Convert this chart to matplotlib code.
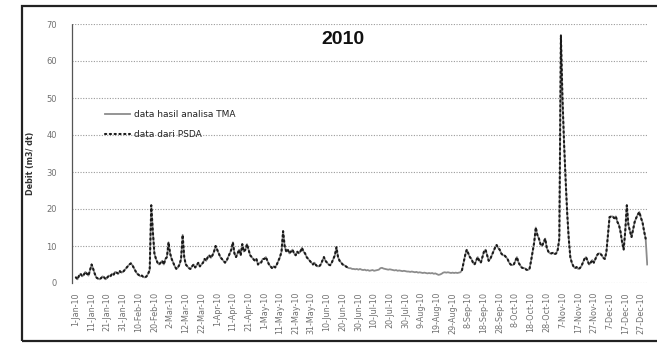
import matplotlib
matplotlib.use("Agg")
import matplotlib.pyplot as plt
import matplotlib.dates as mdates
from matplotlib.patches import Rectangle
import numpy as np
import pandas as pd

# Daily discharge (m3/dt) from the TMA analysis, month by month, 2010
jan = [1.5, 1.0, 2.0, 2.5, 1.8, 2.2, 3.0, 2.5, 2.0, 3.5, 5.0, 3.8, 2.5, 1.5, 1.2, 1.0,
       1.3, 1.8, 1.5, 1.0, 1.5, 2.0, 1.8, 2.5, 2.2, 3.0, 2.8, 2.5, 3.2, 2.8, 3.0]
feb = [3.5, 4.0, 4.5, 5.0, 5.3, 4.8, 4.0, 3.2, 2.5, 2.2, 1.8, 2.0, 1.6, 1.5, 1.8, 2.5,
       3.5, 21.0, 14.0, 8.0, 6.5, 5.5, 5.0, 5.5, 6.0, 5.0, 6.5, 7.0]
mar = [11.0, 8.0, 6.5, 5.5, 4.5, 3.8, 4.2, 5.0, 6.5, 13.0, 7.0, 5.0, 4.5, 4.0, 3.8, 4.5,
       5.0, 4.2, 4.8, 5.5, 4.5, 5.0, 5.5, 6.5, 6.0, 7.0, 7.5, 6.8, 7.5, 8.5, 10.0]
apr = [9.0, 8.0, 7.0, 6.5, 6.0, 5.5, 6.0, 7.0, 8.0, 9.0, 11.0, 8.0, 7.0, 8.0, 9.0,
       7.5, 10.5, 8.5, 9.0, 10.5, 9.0, 7.5, 7.0, 6.5, 6.0, 6.5, 5.0, 5.5, 5.5, 6.5]
may = [6.5, 7.0, 6.0, 5.0, 4.5, 4.0, 4.5, 4.2, 5.0, 6.0, 7.0, 8.5, 14.0, 10.0, 8.5, 9.0,
       8.0, 8.5, 9.0, 8.0, 7.5, 8.5, 8.0, 8.5, 9.5, 8.5, 8.0, 7.0, 6.5, 6.0, 5.5]
jun = [5.0, 5.5, 4.8, 4.5, 4.5, 5.0, 6.0, 7.0, 6.0, 5.5, 5.0, 4.8, 5.5, 6.5, 7.5,
       9.7, 7.0, 6.0, 5.5, 5.0, 4.8, 4.5, 4.2, 4.0, 4.0, 3.8, 3.8, 3.7, 3.8, 3.6]
jul = [3.8, 3.6, 3.5, 3.6, 3.4, 3.5, 3.3, 3.4, 3.5, 3.3, 3.4, 3.5, 3.6, 4.0, 4.1, 3.9,
       3.8, 3.7, 3.6, 3.7, 3.6, 3.5, 3.4, 3.5, 3.3, 3.4, 3.3, 3.2, 3.3, 3.2, 3.1]
aug = [3.1, 3.0, 3.1, 3.0, 2.9, 3.0, 2.8, 2.9, 2.8, 2.7, 2.8, 2.7, 2.6, 2.7, 2.6, 2.7,
       2.5, 2.6, 2.4, 2.2, 2.3, 2.5, 2.8, 2.9, 2.8, 2.9, 2.8, 2.7, 2.8, 2.7, 2.8]
sep = [2.7, 2.8, 2.9, 3.5, 5.5, 7.5, 9.0, 8.0, 7.0, 6.5, 5.5, 5.0, 6.0, 7.0, 6.0,
       5.5, 7.0, 8.5, 9.0, 7.5, 6.0, 6.5, 7.5, 8.5, 9.5, 10.3, 9.5, 9.0, 8.0, 7.5]
oct_ = [7.5, 7.0, 6.5, 5.5, 5.0, 4.8, 5.0, 6.0, 7.0, 5.5, 4.8, 4.2, 4.0, 4.0, 3.6, 3.5,
        3.8, 6.0, 8.5, 11.0, 15.0, 13.0, 12.0, 10.5, 10.0, 11.0, 12.0, 9.5, 8.5, 8.0, 8.0]
nov = [8.2, 7.8, 8.0, 9.0, 12.0, 67.0, 50.0, 38.0, 28.0, 19.0, 12.0, 7.0, 5.4, 4.5, 4.0,
       4.3, 3.8, 4.0, 4.5, 5.5, 6.5, 7.0, 6.0, 5.0, 5.5, 6.2, 5.5, 6.5, 7.5, 8.0]
dec = [8.0, 7.5, 6.8, 6.5, 8.4, 13.0, 17.8, 18.0, 18.0, 17.5, 18.0, 16.5, 15.7, 13.8,
       11.0, 9.0, 14.0, 21.0, 15.7, 14.0, 12.4, 14.5, 16.5, 17.6, 18.5, 19.2, 17.6,
       16.4, 14.0, 12.0, 5.0]

# Periods covered by the PSDA records
psda_periods = [("2010-01-01", "2010-06-24"), ("2010-09-04", "2010-12-30")]

tick_dates = pd.date_range("2010-01-01", periods=37, freq="10D")
tick_labels = [f"{d.day}-{d.strftime('%b-%y')}" for d in tick_dates]
y_ticks = [0, 10, 20, 30, 40, 50, 60, 70]

tma = np.array(jan + feb + mar + apr + may + jun + jul + aug + sep + oct_ + nov + dec)
dates = pd.date_range("2010-01-01", periods=len(tma), freq="D")
psda = pd.Series(np.nan, index=dates)
tma_s = pd.Series(tma, index=dates)
for start, end in psda_periods:
    psda[start:end] = tma_s[start:end]

plt.rcParams["font.family"] = ["DejaVu Sans"]

fig = plt.figure(figsize=(6.57, 3.43), dpi=100)
ax = fig.add_axes([72 / 657, 1 - 283 / 343, 576 / 657, 259 / 343])

x = mdates.date2num(dates)
ax.plot(x, tma, color="#8c8c8c", lw=1.3, solid_joinstyle="round",
        label="data hasil analisa TMA", zorder=2)
ax.plot(x, psda.values, color="#1a1a1a", lw=1.5, linestyle=(0, (0.6, 1.7)),
        dash_capstyle="round", label="data dari PSDA", zorder=3)

x0 = mdates.date2num(pd.Timestamp("2010-01-01"))
ax.set_xlim(x0 - 2.5, x0 + 364.5)
ax.set_ylim(0, 70)

ax.set_yticks(y_ticks)
ax.set_xticks(mdates.date2num(tick_dates))
ax.set_xticklabels(tick_labels, rotation=90, fontsize=5.8, color="#707070")
ax.tick_params(axis="x", length=0, pad=6.5)
ax.tick_params(axis="y", length=0, pad=11, labelsize=6, labelcolor="#707070")

ax.yaxis.grid(True, linestyle=(0, (1, 1.4)), color="#9a9a9a", lw=0.8)
ax.set_axisbelow(True)
for side in ["top", "right", "bottom"]:
    ax.spines[side].set_visible(False)
ax.spines["left"].set_linestyle((0, (1, 1)))
ax.spines["left"].set_color("#555555")
ax.spines["left"].set_linewidth(0.9)

ax.text((343 - 72) / 576, 1 - (40 - 24) / 259, "2010", transform=ax.transAxes,
        ha="center", va="center", fontsize=14, fontweight="bold",
        family=["Liberation Sans", "DejaVu Sans"], color="#111111")

leg = ax.legend(loc="upper left", bbox_to_anchor=(105 / 657, 1 - 110 / 343),
                bbox_transform=fig.transFigure, frameon=False, fontsize=6.5,
                handlelength=2.8, handletextpad=0.4, labelspacing=1.2,
                borderpad=0, borderaxespad=0)
for t in leg.get_texts():
    t.set_color("#222222")

fig.text(31 / 657, 1 - 163 / 343, "Debit (m3/ dt)", rotation=90, ha="center",
         va="center", fontsize=5.8, color="#333333", fontweight="bold")

fig.add_artist(Rectangle((22 / 657, 1 - 341 / 343), 1.0, 335 / 343,
                         transform=fig.transFigure, fill=False, lw=1.6,
                         ec="#222222", clip_on=False))

fig.savefig("out.png", dpi=100)
